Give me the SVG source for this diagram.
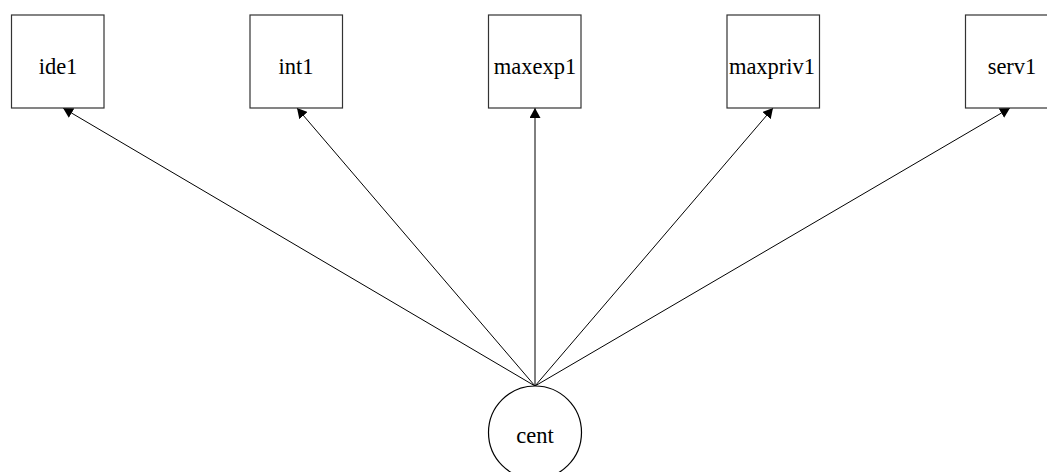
<svg xmlns="http://www.w3.org/2000/svg" width="1047" height="472" viewBox="0 0 1047 472">
<style>
.box{fill:#fff;stroke:#333;stroke-width:1.2}
.lat{fill:#fff;stroke:#000;stroke-width:1.2}
.lbl{font-family:"Liberation Serif",serif;font-size:22.5px;fill:#000;text-anchor:middle}
.edge{stroke:#000;stroke-width:1;fill:none;marker-end:url(#ah)}
</style>
<defs>
<marker id="ah" markerWidth="11" markerHeight="11" refX="10" refY="5.5" orient="auto" markerUnits="userSpaceOnUse">
<path d="M0,0 L10,5.5 L0,11 Z" fill="#000"/>
</marker>
</defs>
<rect width="1047" height="472" fill="#fff"/>
<g id="connectors">
<line class="edge" x1="535" y1="386" x2="63" y2="108"/>
<line class="edge" x1="535" y1="386" x2="297" y2="108"/>
<line class="edge" x1="535" y1="386" x2="535" y2="108"/>
<line class="edge" x1="535" y1="386" x2="773" y2="108"/>
<line class="edge" x1="535" y1="386" x2="1010" y2="108"/>
</g>
<g id="ide1"><rect class="box" x="11.5" y="15" width="92.5" height="93"/><text class="lbl" x="58" y="74">ide1</text></g>
<g id="int1"><rect class="box" x="250" y="15" width="92.5" height="93"/><text class="lbl" x="296" y="74">int1</text></g>
<g id="maxexp1"><rect class="box" x="488.5" y="15" width="92.5" height="93"/><text class="lbl" x="535" y="74">maxexp1</text></g>
<g id="maxpriv1"><rect class="box" x="727" y="15" width="92.5" height="93"/><text class="lbl" x="772" y="74">maxpriv1</text></g>
<g id="serv1"><rect class="box" x="965.5" y="15" width="92.5" height="93"/><text class="lbl" x="1012" y="74">serv1</text></g>
<g id="cent"><circle class="lat" cx="535" cy="432.5" r="46.5"/><text class="lbl" x="535" y="443">cent</text></g>
</svg>
